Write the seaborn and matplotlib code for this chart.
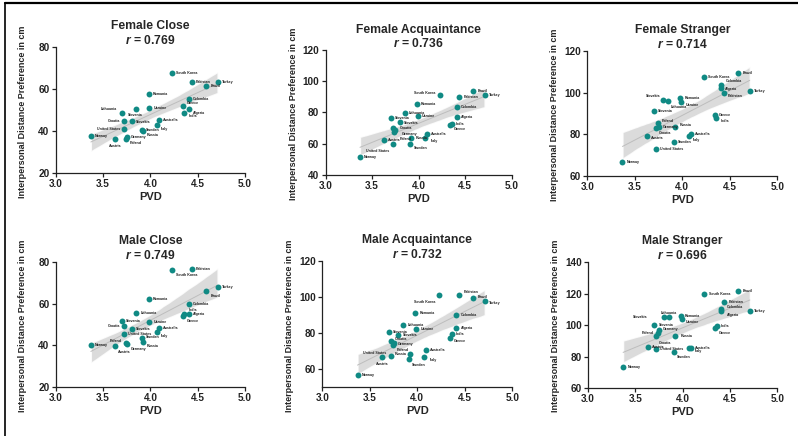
import matplotlib
matplotlib.use("Agg")
import matplotlib.pyplot as plt
from matplotlib.lines import Line2D
import numpy as np
import seaborn as sns

countries = ["Norway", "Austria", "Slovenia", "United States", "Croatia", "Poland",
             "Germany", "Slovakia", "Lithuania", "Sweden", "Russia", "Romania",
             "Ukraine", "Italy", "Australia", "South Korea", "Greece", "India",
             "Algeria", "Colombia", "Pakistan", "Brazil", "Turkey"]
pvd = [3.37, 3.63, 3.70, 3.72, 3.72, 3.74, 3.75, 3.80, 3.85, 3.91, 3.92, 3.98,
       3.99, 4.07, 4.09, 4.23, 4.34, 4.36, 4.41, 4.41, 4.44, 4.59, 4.71]

female_close = [37.7, 36.4, 48.5, 40.9, 44.9, 36.1, 37.2, 45.0, 50.7, 40.6, 40.1, 57.6,
                51.1, 43.1, 45.2, 67.8, 51.9, 48.4, 50.4, 55.2, 63.5, 61.4, 63.6]
female_acq = [51.5, 62.3, 76.4, 59.8, 69.8, 67.5, 68.5, 73.6, 79.6, 60.0, 63.4, 85.7,
              77.9, 63.4, 66.2, 90.9, 72.1, 72.8, 76.8, 83.8, 89.8, 93.8, 91.5]
female_str = [66.6, 79.2, 91.4, 73.0, 82.9, 85.6, 83.7, 96.3, 95.8, 76.2, 83.4, 97.6,
              95.5, 79.2, 80.0, 107.7, 89.1, 88.0, 102.5, 103.5, 99.8, 109.6, 100.8]
male_close = [40.0, 39.7, 51.5, 45.7, 49.1, 41.0, 40.5, 48.1, 55.5, 43.5, 41.5, 62.1,
              51.3, 46.5, 48.3, 76.3, 53.9, 55.0, 54.9, 59.8, 76.9, 65.9, 67.8]
male_acq = [57.0, 66.5, 80.6, 67.2, 75.4, 73.5, 74.5, 78.9, 84.6, 65.6, 68.7, 91.3,
            82.4, 66.5, 70.4, 101.3, 77.2, 79.8, 83.1, 90.2, 101.3, 99.6, 98.0]
male_str = [73.4, 86.2, 100.0, 84.5, 93.2, 95.0, 96.6, 105.3, 105.3, 83.0, 92.8, 106.0,
            103.6, 85.5, 85.7, 120.0, 97.9, 99.6, 109.1, 110.4, 114.7, 121.3, 109.1]

titles = ["Female Close", "Female Acquaintance", "Female Stranger",
          "Male Close", "Male Acquaintance", "Male Stranger"]
r_values = ["0.769", "0.736", "0.714", "0.749", "0.732", "0.696"]
series = [female_close, female_acq, female_str, male_close, male_acq, male_str]
ylims = [(20, 80), (40, 120), (60, 120), (20, 80), (50, 120), (60, 140)]
yticks = [[20, 40, 60, 80], [40, 60, 80, 100, 120], [60, 80, 100, 120],
          [20, 40, 60, 80], [60, 80, 100, 120], [60, 80, 100, 120, 140]]
xticks = [3.0, 3.5, 4.0, 4.5, 5.0]

# axes rectangles in figure fractions
rects = [[0.070, 0.603, 0.237, 0.289], [0.408, 0.599, 0.233, 0.286],
         [0.736, 0.596, 0.238, 0.287], [0.070, 0.112, 0.237, 0.287],
         [0.404, 0.112, 0.238, 0.289], [0.737, 0.110, 0.237, 0.289]]

# label offsets (points) that differ from the default "right of the dot"
offsets = [
    {"Lithuania": (-14, 0), "Slovenia": (4, -1.5), "Slovakia": (3, -1),
     "Croatia": (-3, 0), "United States": (-3, 0), "Austria": (0, -5),
     "Algeria": (3, -2.5), "Italy": (3, -3), "Russia": (3, -3), "Poland": (3, -3),
     "Greece": (3, 2), "India": (3, -1.5)},
    {"South Korea": (-3, 2), "United States": (-2, -5), "Austria": (3, 0),
     "Sweden": (3, -3), "Greece": (3, -3), "Italy": (4, -2),
     "Slovakia": (3, -0.5), "Croatia": (5, 0.5), "Germany": (5, -2.5),
     "Poland": (4, -4.8)},
    {"Slovakia": (-2, 3), "Lithuania": (2, -4), "Ukraine": (3, -2),
     "Croatia": (2, -3), "Colombia": (3, 3), "Algeria": (3, -1), "Pakistan": (3, -2),
     "India": (3, -2), "Italy": (3, -3), "Poland": (3, 1.5), "Germany": (3, -0.5),
     "Russia": (4, 1.5), "Austria": (3, -1.5)},
    {"South Korea": (3, -4), "Croatia": (-3, 0), "United States": (3, 0),
     "Poland": (-3, 2), "Germany": (3, -3), "Austria": (2, -4), "Greece": (3, -3),
     "India": (3, 3), "Brazil": (3, -3), "Italy": (3, -3), "Russia": (3, -2.5),
     "Sweden": (3, 1)},
    {"South Korea": (-3, -5), "Pakistan": (3, 2), "Brazil": (3, 0.5),
     "Turkey": (3, -1.5), "United States": (-3, 2),
     "Austria": (0, -5), "Sweden": (2, -4), "Croatia": (3, 1.5), "Poland": (3, -3.5),
     "Germany": (3, -1), "Greece": (3, -2), "Italy": (4, -2), "Russia": (-2, 0)},
    {"Slovakia": (-12, 0), "Lithuania": (0, 3), "Ukraine": (3, -2), "Poland": (-3, 0),
     "Croatia": (2, -5), "Germany": (3, 1), "Algeria": (4, -3), "Colombia": (4, 1),
     "Greece": (3, -3), "Sweden": (2, -4), "Italy": (4, -2), "Russia": (4, 0)},
]

TEAL = "#108a84"

sns.set_style("ticks")
plt.rcParams["font.family"] = ["Liberation Sans", "DejaVu Sans"]
plt.rcParams["font.weight"] = "bold"
plt.rcParams["mathtext.fontset"] = "custom"
plt.rcParams["mathtext.it"] = "Liberation Sans:italic:bold"
plt.rcParams["mathtext.rm"] = "Liberation Sans:bold"

fig = plt.figure(figsize=(7.98, 4.36), dpi=100)

for i, vals in enumerate(series):
    ax = fig.add_axes(rects[i])
    sns.regplot(x=pvd, y=vals, ax=ax, scatter=False, ci=95, seed=0,
                line_kws=dict(color="#bdbdbd", lw=0.7))
    for coll in ax.collections:
        coll.set_facecolor("#d2d2d2")
        coll.set_alpha(0.8)
    sns.scatterplot(x=pvd, y=vals, ax=ax, color=TEAL, s=18, linewidth=0, zorder=3)

    for name, x, y in zip(countries, pvd, vals):
        dx, dy = offsets[i].get(name, (3, 0))
        ha = "left" if dx > 0 else ("right" if dx < 0 else "center")
        ax.annotate(name, (x, y), xytext=(dx, dy), textcoords="offset points",
                    ha=ha, va="center", fontsize=2.6, fontweight="bold", color="#222222")

    ax.set_xlim(3.0, 5.0)
    ax.set_ylim(*ylims[i])
    ax.set_xticks(xticks)
    ax.set_xticklabels([f"{t:.1f}" for t in xticks])
    ax.set_yticks(yticks[i])
    sns.despine(ax=ax)
    for side in ["left", "bottom"]:
        ax.spines[side].set_linewidth(0.9)
        ax.spines[side].set_color("#222222")
    ax.tick_params(length=3, width=0.9, labelsize=7.2, pad=1.5, colors="#222222")
    for lab in ax.get_xticklabels() + ax.get_yticklabels():
        lab.set_fontweight("bold")

    ax.set_xlabel("PVD", fontsize=8, fontweight="bold", labelpad=2)
    ax.set_ylabel("Interpersonal Distance Preference in cm", fontsize=6.5,
                  fontweight="bold")
    ax.yaxis.set_label_coords(-0.15, 0.49)

    ax.text(0.5, 1.165, titles[i], transform=ax.transAxes, ha="center", va="center",
            fontsize=8.7, fontweight="bold")
    ax.text(0.5, 1.05, f"$r$ = {r_values[i]}", transform=ax.transAxes, ha="center",
            va="center", fontsize=8.7, fontweight="bold")

# frame lines along the top and left edges
fig.add_artist(Line2D([0.006, 1.0], [0.992, 0.992], transform=fig.transFigure,
                      color="black", lw=1.6))
fig.add_artist(Line2D([0.006, 0.006], [0.0, 0.992], transform=fig.transFigure,
                      color="black", lw=1.2))

fig.savefig("out.png", dpi=100)
